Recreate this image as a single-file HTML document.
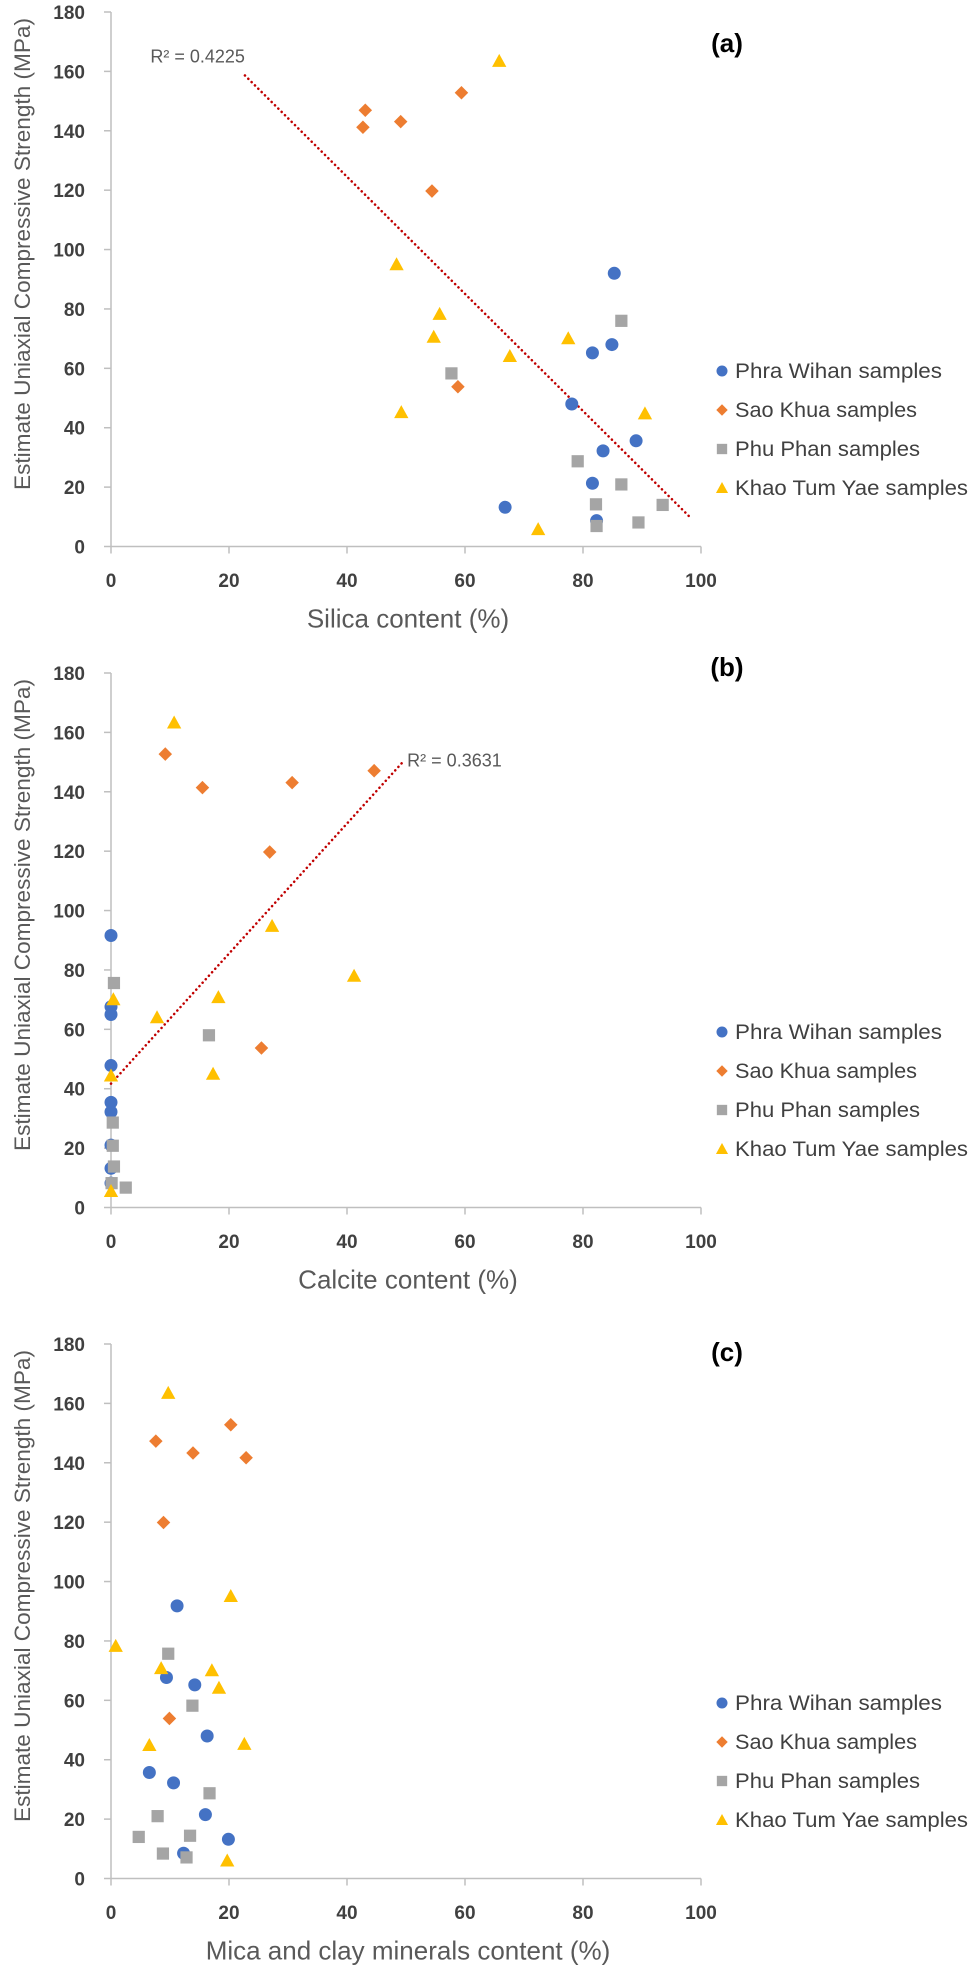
<!DOCTYPE html>
<html><head><meta charset="utf-8">
<style>
html,body{margin:0;padding:0;background:#fff;}
svg{display:block;}
text{font-family:"Liberation Sans",sans-serif;}
</style></head>
<body>
<svg id="fig" width="975" height="1970" viewBox="0 0 975 1970" xmlns="http://www.w3.org/2000/svg"></svg>
<script>
// ---- data ----
const seriesNames = ["Phra Wihan samples","Sao Khua samples","Phu Phan samples","Khao Tum Yae samples"];
const yTicks = [0,20,40,60,80,100,120,140,160,180];
const xTicks = [0,20,40,60,80,100];

// chart (a) silica
const aWihanX = [85.3,84.9,81.6,78.1,89.0,83.4,81.6,66.8,82.3];
const aWihanY = [92,68,65.2,48,35.6,32.2,21.3,13.2,8.7];
const aKhuaX = [43.1,42.7,49.1,59.4,54.4,58.8];
const aKhuaY = [146.9,141.2,143.1,152.8,119.7,53.8];
const aPhanX = [86.5,57.7,79.1,86.5,82.2,82.3,89.4,93.5];
const aPhanY = [76,58.3,28.7,20.9,14.2,6.9,8.1,14];
const aKhaoX = [65.8,48.4,55.7,54.7,67.6,49.2,77.5,90.5,72.4];
const aKhaoY = [163.5,95,78.3,70.6,64.1,45.2,70.1,44.8,5.8];
const aTrend = [-1.972, 203.4]; // slope, intercept
const aTrendRange = [22.7, 98.3];

// chart (b) calcite
const bWihanX = [0,0,0,0,0,0,0,0,0];
const bWihanY = [91.6,67.6,65,47.8,35.4,32.2,21,13.2,8.2];
const bKhuaX = [9.2,15.5,30.7,44.6,26.9,25.5];
const bKhuaY = [152.7,141.4,143.1,147.1,119.7,53.7];
const bPhanX = [0.5,16.6,0.3,0.3,0.5,0.1,2.5];
const bPhanY = [75.6,58,28.6,20.8,13.8,8.2,6.7];
const bKhaoX = [10.7,27.3,41.2,0.4,18.2,7.8,17.3,0,0];
const bKhaoY = [163.3,94.8,78,70.1,70.8,64,45,44.4,5.5];
const bTrend = [2.19, 41.7];
const bTrendRange = [0, 49.3];

// chart (c) mica & clay
const cWihanX = [11.2,9.4,14.2,16.3,6.5,10.6,16,19.9,12.3];
const cWihanY = [91.8,67.7,65.2,48,35.7,32.2,21.5,13.2,8.5];
const cKhuaX = [20.3,7.6,13.9,22.9,8.9,9.9];
const cKhuaY = [152.8,147.3,143.3,141.7,119.9,53.9];
const cPhanX = [9.7,13.8,16.7,7.9,4.7,13.4,8.8,12.8];
const cPhanY = [75.7,58.2,28.7,21,14,14.4,8.4,7.1];
const cKhaoX = [9.7,20.3,0.8,8.5,17.1,18.3,6.5,22.6,19.7];
const cKhaoY = [163.5,95.1,78.3,70.8,70.1,64.2,44.9,45.3,6];

const NS = "http://www.w3.org/2000/svg";
const svg = document.getElementById('fig');
const colors = ["#4472C4","#ED7D31","#A5A5A5","#FFC000"];
const X0 = 111, X1 = 701;

function el(tag, attrs, parent){
  const e = document.createElementNS(NS, tag);
  for (const k in attrs) e.setAttribute(k, attrs[k]);
  (parent||svg).appendChild(e);
  return e;
}
function marker(g, kind, cx, cy, s){
  let m;
  if (kind===0) m = el('circle',{cx:cx,cy:cy,r:s*0.5,fill:colors[0]},g);
  else if (kind===1) m = el('polygon',{points:`${cx},${cy-s*0.52} ${cx+s*0.52},${cy} ${cx},${cy+s*0.52} ${cx-s*0.52},${cy}`,fill:colors[1]},g);
  else if (kind===2) m = el('rect',{x:cx-s*0.47,y:cy-s*0.47,width:s*0.94,height:s*0.94,fill:colors[2]},g);
  else m = el('polygon',{points:`${cx},${cy-s*0.55} ${cx+s*0.55},${cy+s*0.45} ${cx-s*0.55},${cy+s*0.45}`,fill:colors[3]},g);
  return m;
}

function drawChart(off, letter, labelY, xTitle, series, trend, trendRange, r2, r2pos){
  const Y0 = 546.5+off, Y1 = 12+off;
  const xs = v => X0 + v/100*(X1-X0);
  const ys = v => Y0 - v/180*(Y0-Y1);
  const g = el('g',{});
  
  
  const ya = el('line',{x1:X0,y1:Y1,x2:X0,y2:Y0,stroke:'#BFBFBF','stroke-width':1.5},g);
  
  
  const xa = el('line',{x1:X0,y1:Y0,x2:X1,y2:Y0,stroke:'#BFBFBF','stroke-width':1.5},g);
  
  
  yTicks.forEach(t=>{
    el('line',{x1:X0-7,y1:ys(t),x2:X0,y2:ys(t),stroke:'#BFBFBF','stroke-width':1.5},g);
    const tl = el('text',{x:85,y:ys(t)+7,'text-anchor':'end','font-size':19,'font-weight':'bold',fill:'#404040'},g);
    tl.textContent = t;
    
    
  });
  xTicks.forEach(t=>{
    el('line',{x1:xs(t),y1:Y0,x2:xs(t),y2:Y0+7,stroke:'#BFBFBF','stroke-width':1.5},g);
    const tl = el('text',{x:xs(t),y:Y0+40.5,'text-anchor':'middle','font-size':19,'font-weight':'bold',fill:'#404040'},g);
    tl.textContent = t;
    
    
  });
  const yt = el('text',{x:0,y:0,'text-anchor':'middle','font-size':22,fill:'#595959',
    transform:`translate(30,${254+off}) rotate(-90)`,textLength:472,lengthAdjust:'spacingAndGlyphs'},g);
  yt.textContent = 'Estimate Uniaxial Compressive Strength (MPa)';
  
  
  const xt = el('text',{x:408,y:Y0+81,'text-anchor':'middle','font-size':26,fill:'#595959'},g);
  xt.textContent = xTitle;
  
  
  const pl = el('text',{x:727,y:labelY+9,'text-anchor':'middle','font-size':26,'font-weight':'bold',fill:'#000'},g);
  pl.textContent = '('+letter+')';
  
  
  if (trend){
    const tx0 = trendRange[0], tx1 = trendRange[1];
    const tr = el('line',{x1:xs(tx0),y1:ys(trend[0]*tx0+trend[1]),x2:xs(tx1),y2:ys(trend[0]*tx1+trend[1]),
      stroke:'#C00000','stroke-width':2.5,'stroke-dasharray':'0.1 4.6','stroke-linecap':'round'},g);
    
    
    const rt = el('text',{x:xs(r2pos[0]),y:ys(r2pos[1]),'text-anchor':r2pos[2],'font-size':18,fill:'#595959'},g);
    rt.textContent = r2;
    
    
  }
  series.forEach((s,k)=>{
    const sg = el('g',{},g);
    
    
    s[0].forEach((xv,i)=>{
      const m = marker(sg,k,xs(xv),ys(s[1][i]),13);
      
      
    });
  });
  const lg = el('g',{},g);
  
  
  seriesNames.forEach((n,k)=>{
    const ly = 371+off+k*39;
    marker(lg,k,722,ly,11);
    const lt = el('text',{x:735,y:ly+7,'font-size':21,fill:'#404040',textLength:[207,182,185,233][k],lengthAdjust:'spacingAndGlyphs'},lg);
    lt.textContent = n;
    
    
  });
}

drawChart(0,'a',43,'Silica content (%)',
  [[aWihanX,aWihanY],[aKhuaX,aKhuaY],[aPhanX,aPhanY],[aKhaoX,aKhaoY]],
  aTrend, aTrendRange, 'R² = 0.4225', [22.7,163,'end']);
drawChart(661,'b',667,'Calcite content (%)',
  [[bWihanX,bWihanY],[bKhuaX,bKhuaY],[bPhanX,bPhanY],[bKhaoX,bKhaoY]],
  bTrend, bTrendRange, 'R² = 0.3631', [50.2,148.5,'start']);
drawChart(1332,'c',1352,'Mica and clay minerals content (%)',
  [[cWihanX,cWihanY],[cKhuaX,cKhuaY],[cPhanX,cPhanY],[cKhaoX,cKhaoY]],
  null, null, '', null);
</script>
</body></html>
